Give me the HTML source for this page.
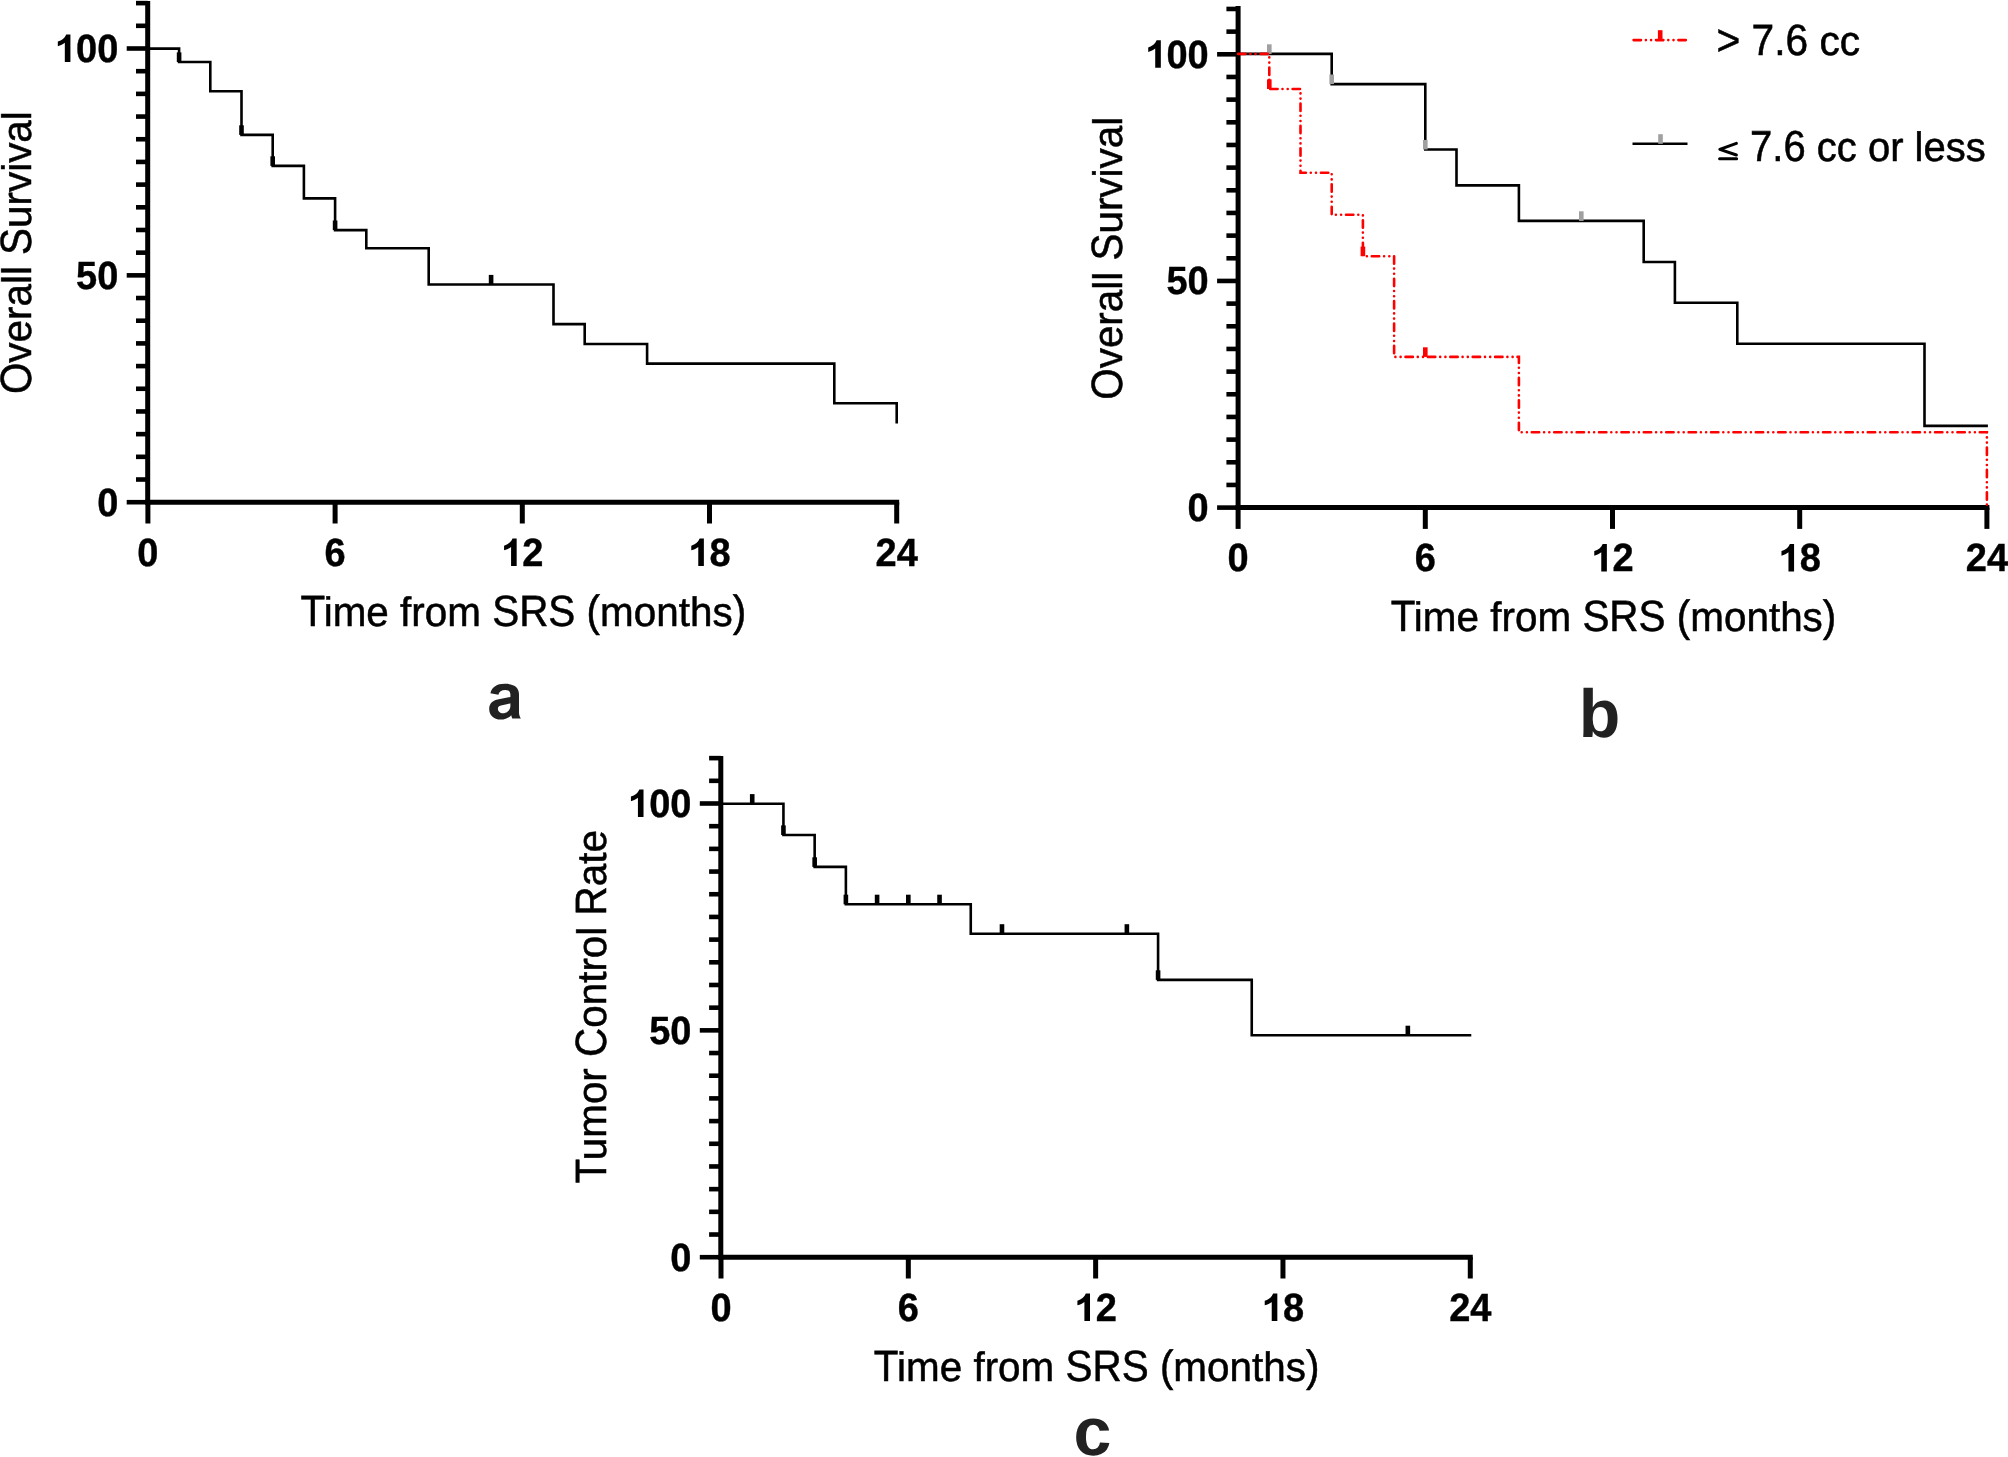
<!DOCTYPE html>
<html><head><meta charset="utf-8"><title>Kaplan-Meier curves</title>
<style>
html,body{margin:0;padding:0;background:#fff;}
body{width:2008px;height:1457px;overflow:hidden;}
svg{display:block;}
text{filter:grayscale(1);text-rendering:geometricPrecision;}
.tl{font-family:"Liberation Sans",sans-serif;font-weight:bold;font-size:38px;fill:#000;stroke:#000;stroke-width:0.4px;}
.tt{font-family:"Liberation Sans",sans-serif;font-size:40px;fill:#000;stroke:#000;stroke-width:0.5px;}
.pl{font-family:"Liberation Sans",sans-serif;font-weight:bold;font-size:68px;fill:#222;}
</style></head>
<body>
<svg width="2008" height="1457" viewBox="0 0 2008 1457">
<rect width="2008" height="1457" fill="#fff"/>
<line x1="147.7" y1="1" x2="147.7" y2="504.7" stroke="#000" stroke-width="5.0"/>
<line x1="126.7" y1="502.2" x2="147.7" y2="502.2" stroke="#000" stroke-width="4.6"/>
<line x1="136" y1="479.51" x2="147.7" y2="479.51" stroke="#000" stroke-width="4.6"/>
<line x1="136" y1="456.83" x2="147.7" y2="456.83" stroke="#000" stroke-width="4.6"/>
<line x1="136" y1="434.14" x2="147.7" y2="434.14" stroke="#000" stroke-width="4.6"/>
<line x1="136" y1="411.46" x2="147.7" y2="411.46" stroke="#000" stroke-width="4.6"/>
<line x1="136" y1="388.77" x2="147.7" y2="388.77" stroke="#000" stroke-width="4.6"/>
<line x1="136" y1="366.09" x2="147.7" y2="366.09" stroke="#000" stroke-width="4.6"/>
<line x1="136" y1="343.4" x2="147.7" y2="343.4" stroke="#000" stroke-width="4.6"/>
<line x1="136" y1="320.72" x2="147.7" y2="320.72" stroke="#000" stroke-width="4.6"/>
<line x1="136" y1="298.03" x2="147.7" y2="298.03" stroke="#000" stroke-width="4.6"/>
<line x1="126.7" y1="275.35" x2="147.7" y2="275.35" stroke="#000" stroke-width="4.6"/>
<line x1="136" y1="252.66" x2="147.7" y2="252.66" stroke="#000" stroke-width="4.6"/>
<line x1="136" y1="229.98" x2="147.7" y2="229.98" stroke="#000" stroke-width="4.6"/>
<line x1="136" y1="207.3" x2="147.7" y2="207.3" stroke="#000" stroke-width="4.6"/>
<line x1="136" y1="184.61" x2="147.7" y2="184.61" stroke="#000" stroke-width="4.6"/>
<line x1="136" y1="161.93" x2="147.7" y2="161.93" stroke="#000" stroke-width="4.6"/>
<line x1="136" y1="139.24" x2="147.7" y2="139.24" stroke="#000" stroke-width="4.6"/>
<line x1="136" y1="116.56" x2="147.7" y2="116.56" stroke="#000" stroke-width="4.6"/>
<line x1="136" y1="93.87" x2="147.7" y2="93.87" stroke="#000" stroke-width="4.6"/>
<line x1="136" y1="71.19" x2="147.7" y2="71.19" stroke="#000" stroke-width="4.6"/>
<line x1="126.7" y1="48.5" x2="147.7" y2="48.5" stroke="#000" stroke-width="4.6"/>
<line x1="136" y1="25.81" x2="147.7" y2="25.81" stroke="#000" stroke-width="4.6"/>
<line x1="136" y1="3.13" x2="147.7" y2="3.13" stroke="#000" stroke-width="4.6"/>
<line x1="145.2" y1="502.2" x2="899.2" y2="502.2" stroke="#000" stroke-width="5.0"/>
<line x1="147.9" y1="502.2" x2="147.9" y2="523.5" stroke="#000" stroke-width="5.0"/>
<line x1="335.1" y1="502.2" x2="335.1" y2="523.5" stroke="#000" stroke-width="5.0"/>
<line x1="522.3" y1="502.2" x2="522.3" y2="523.5" stroke="#000" stroke-width="5.0"/>
<line x1="709.5" y1="502.2" x2="709.5" y2="523.5" stroke="#000" stroke-width="5.0"/>
<line x1="896.7" y1="502.2" x2="896.7" y2="523.5" stroke="#000" stroke-width="5.0"/>
<text class="tl" transform="translate(97.17,515.6) scale(1,1.037)">0</text>
<text class="tl" transform="translate(76.04,288.75) scale(1,1.037)">5</text>
<text class="tl" transform="translate(97.17,288.75) scale(1,1.037)">0</text>
<path transform="translate(70.42,34.4)" d="M-4.2,0 L0,0 L0,27.5 L-5.6,27.5 L-5.6,8.4 C-7.4,10 -9.8,11.2 -12.6,11.8 L-12.6,7.2 C-8.6,6 -5.6,3.6 -4.2,0 Z" fill="#000"/>
<text class="tl" transform="translate(76.04,61.9) scale(1,1.037)">0</text>
<text class="tl" transform="translate(97.17,61.9) scale(1,1.037)">0</text>
<text class="tl" transform="translate(137.34,566) scale(1,1.037)">0</text>
<text class="tl" transform="translate(324.54,566) scale(1,1.037)">6</text>
<path transform="translate(516.67,538.5)" d="M-4.2,0 L0,0 L0,27.5 L-5.6,27.5 L-5.6,8.4 C-7.4,10 -9.8,11.2 -12.6,11.8 L-12.6,7.2 C-8.6,6 -5.6,3.6 -4.2,0 Z" fill="#000"/>
<text class="tl" transform="translate(522.3,566) scale(1,1.037)">2</text>
<path transform="translate(703.87,538.5)" d="M-4.2,0 L0,0 L0,27.5 L-5.6,27.5 L-5.6,8.4 C-7.4,10 -9.8,11.2 -12.6,11.8 L-12.6,7.2 C-8.6,6 -5.6,3.6 -4.2,0 Z" fill="#000"/>
<text class="tl" transform="translate(709.5,566) scale(1,1.037)">8</text>
<text class="tl" transform="translate(875.57,566) scale(1,1.037)">2</text>
<text class="tl" transform="translate(896.7,566) scale(1,1.037)">4</text>
<text class="tt" transform="translate(300.47,626) scale(1.011,1.095)" xml:space="preserve">T</text>
<text class="tt" transform="translate(323.66,626) scale(1.011,1.03)" xml:space="preserve">ime from </text>
<text class="tt" transform="translate(492.18,626) scale(1.011,1.095)" xml:space="preserve">SRS (</text>
<text class="tt" transform="translate(600.03,626) scale(1.011,1.03)" xml:space="preserve">months</text>
<text class="tt" transform="translate(732.64,626) scale(1.011,1.095)" xml:space="preserve">)</text>
<g transform="translate(31.3,252.66) rotate(-90)">
<text class="tt" transform="translate(-141.44,0) scale(1.01,1.095)" xml:space="preserve">O</text>
<text class="tt" transform="translate(-110.02,0) scale(1.01,1.03)" xml:space="preserve">verall </text>
<text class="tt" transform="translate(-2.25,0) scale(1.01,1.095)" xml:space="preserve">S</text>
<text class="tt" transform="translate(24.69,0) scale(1.01,1.03)" xml:space="preserve">urvival</text>
</g>
<path d="M147.9,48.6 L179.1,48.6 L179.1,62 L210.3,62 L210.3,91.2 L241.5,91.2 L241.5,134.9 L272.7,134.9 L272.7,165.9 L303.9,165.9 L303.9,198.4 L335.1,198.4 L335.1,230.1 L366.3,230.1 L366.3,248.2 L428.7,248.2 L428.7,284.5 L553.5,284.5 L553.5,324.1 L584.7,324.1 L584.7,344 L647.1,344 L647.1,363.6 L834.3,363.6 L834.3,403.2 L896.7,403.2 L896.7,423.4" fill="none" stroke="#000" stroke-width="2.6"/>
<rect x="176.8" y="52.4" width="4.6" height="9.6" fill="#000"/>
<rect x="239.2" y="125.3" width="4.6" height="9.6" fill="#000"/>
<rect x="270.4" y="156.3" width="4.6" height="9.6" fill="#000"/>
<rect x="332.8" y="220.5" width="4.6" height="9.6" fill="#000"/>
<rect x="488.8" y="274.9" width="4.6" height="9.6" fill="#000"/>
<line x1="1238.1" y1="6" x2="1238.1" y2="510.1" stroke="#000" stroke-width="5.0"/>
<line x1="1217.1" y1="507.6" x2="1238.1" y2="507.6" stroke="#000" stroke-width="4.6"/>
<line x1="1226.4" y1="484.94" x2="1238.1" y2="484.94" stroke="#000" stroke-width="4.6"/>
<line x1="1226.4" y1="462.27" x2="1238.1" y2="462.27" stroke="#000" stroke-width="4.6"/>
<line x1="1226.4" y1="439.61" x2="1238.1" y2="439.61" stroke="#000" stroke-width="4.6"/>
<line x1="1226.4" y1="416.94" x2="1238.1" y2="416.94" stroke="#000" stroke-width="4.6"/>
<line x1="1226.4" y1="394.28" x2="1238.1" y2="394.28" stroke="#000" stroke-width="4.6"/>
<line x1="1226.4" y1="371.61" x2="1238.1" y2="371.61" stroke="#000" stroke-width="4.6"/>
<line x1="1226.4" y1="348.95" x2="1238.1" y2="348.95" stroke="#000" stroke-width="4.6"/>
<line x1="1226.4" y1="326.28" x2="1238.1" y2="326.28" stroke="#000" stroke-width="4.6"/>
<line x1="1226.4" y1="303.62" x2="1238.1" y2="303.62" stroke="#000" stroke-width="4.6"/>
<line x1="1217.1" y1="280.95" x2="1238.1" y2="280.95" stroke="#000" stroke-width="4.6"/>
<line x1="1226.4" y1="258.28" x2="1238.1" y2="258.28" stroke="#000" stroke-width="4.6"/>
<line x1="1226.4" y1="235.62" x2="1238.1" y2="235.62" stroke="#000" stroke-width="4.6"/>
<line x1="1226.4" y1="212.95" x2="1238.1" y2="212.95" stroke="#000" stroke-width="4.6"/>
<line x1="1226.4" y1="190.29" x2="1238.1" y2="190.29" stroke="#000" stroke-width="4.6"/>
<line x1="1226.4" y1="167.62" x2="1238.1" y2="167.62" stroke="#000" stroke-width="4.6"/>
<line x1="1226.4" y1="144.96" x2="1238.1" y2="144.96" stroke="#000" stroke-width="4.6"/>
<line x1="1226.4" y1="122.3" x2="1238.1" y2="122.3" stroke="#000" stroke-width="4.6"/>
<line x1="1226.4" y1="99.63" x2="1238.1" y2="99.63" stroke="#000" stroke-width="4.6"/>
<line x1="1226.4" y1="76.96" x2="1238.1" y2="76.96" stroke="#000" stroke-width="4.6"/>
<line x1="1217.1" y1="54.3" x2="1238.1" y2="54.3" stroke="#000" stroke-width="4.6"/>
<line x1="1226.4" y1="31.63" x2="1238.1" y2="31.63" stroke="#000" stroke-width="4.6"/>
<line x1="1226.4" y1="8.97" x2="1238.1" y2="8.97" stroke="#000" stroke-width="4.6"/>
<line x1="1235.6" y1="507.6" x2="1989.4" y2="507.6" stroke="#000" stroke-width="5.0"/>
<line x1="1238.1" y1="507.6" x2="1238.1" y2="528.9" stroke="#000" stroke-width="5.0"/>
<line x1="1425.3" y1="507.6" x2="1425.3" y2="528.9" stroke="#000" stroke-width="5.0"/>
<line x1="1612.5" y1="507.6" x2="1612.5" y2="528.9" stroke="#000" stroke-width="5.0"/>
<line x1="1799.7" y1="507.6" x2="1799.7" y2="528.9" stroke="#000" stroke-width="5.0"/>
<line x1="1986.9" y1="507.6" x2="1986.9" y2="528.9" stroke="#000" stroke-width="5.0"/>
<text class="tl" transform="translate(1187.57,521) scale(1,1.037)">0</text>
<text class="tl" transform="translate(1166.44,294.35) scale(1,1.037)">5</text>
<text class="tl" transform="translate(1187.57,294.35) scale(1,1.037)">0</text>
<path transform="translate(1160.82,40.2)" d="M-4.2,0 L0,0 L0,27.5 L-5.6,27.5 L-5.6,8.4 C-7.4,10 -9.8,11.2 -12.6,11.8 L-12.6,7.2 C-8.6,6 -5.6,3.6 -4.2,0 Z" fill="#000"/>
<text class="tl" transform="translate(1166.44,67.7) scale(1,1.037)">0</text>
<text class="tl" transform="translate(1187.57,67.7) scale(1,1.037)">0</text>
<text class="tl" transform="translate(1227.54,571.4) scale(1,1.037)">0</text>
<text class="tl" transform="translate(1414.74,571.4) scale(1,1.037)">6</text>
<path transform="translate(1606.87,543.9)" d="M-4.2,0 L0,0 L0,27.5 L-5.6,27.5 L-5.6,8.4 C-7.4,10 -9.8,11.2 -12.6,11.8 L-12.6,7.2 C-8.6,6 -5.6,3.6 -4.2,0 Z" fill="#000"/>
<text class="tl" transform="translate(1612.5,571.4) scale(1,1.037)">2</text>
<path transform="translate(1794.07,543.9)" d="M-4.2,0 L0,0 L0,27.5 L-5.6,27.5 L-5.6,8.4 C-7.4,10 -9.8,11.2 -12.6,11.8 L-12.6,7.2 C-8.6,6 -5.6,3.6 -4.2,0 Z" fill="#000"/>
<text class="tl" transform="translate(1799.7,571.4) scale(1,1.037)">8</text>
<text class="tl" transform="translate(1965.77,571.4) scale(1,1.037)">2</text>
<text class="tl" transform="translate(1986.9,571.4) scale(1,1.037)">4</text>
<text class="tt" transform="translate(1390.67,631.4) scale(1.011,1.095)" xml:space="preserve">T</text>
<text class="tt" transform="translate(1413.86,631.4) scale(1.011,1.03)" xml:space="preserve">ime from </text>
<text class="tt" transform="translate(1582.38,631.4) scale(1.011,1.095)" xml:space="preserve">SRS (</text>
<text class="tt" transform="translate(1690.23,631.4) scale(1.011,1.03)" xml:space="preserve">months</text>
<text class="tt" transform="translate(1822.84,631.4) scale(1.011,1.095)" xml:space="preserve">)</text>
<g transform="translate(1121.7,258.28) rotate(-90)">
<text class="tt" transform="translate(-141.44,0) scale(1.01,1.095)" xml:space="preserve">O</text>
<text class="tt" transform="translate(-110.02,0) scale(1.01,1.03)" xml:space="preserve">verall </text>
<text class="tt" transform="translate(-2.25,0) scale(1.01,1.095)" xml:space="preserve">S</text>
<text class="tt" transform="translate(24.69,0) scale(1.01,1.03)" xml:space="preserve">urvival</text>
</g>
<path d="M1238.1,53.9 L1331.7,53.9 L1331.7,84.1 L1425.3,84.1 L1425.3,149.5 L1456.5,149.5 L1456.5,185.4 L1518.9,185.4 L1518.9,220.9 L1643.7,220.9 L1643.7,262 L1674.9,262 L1674.9,302.8 L1737.3,302.8 L1737.3,343.8 L1924.5,343.8 L1924.5,425.9 L1987.9,425.9" fill="none" stroke="#000" stroke-width="2.6"/>
<rect x="1267" y="44.3" width="4.6" height="9.6" fill="#a0a0a0"/>
<rect x="1329.4" y="74.5" width="4.6" height="9.6" fill="#a0a0a0"/>
<rect x="1423" y="139.9" width="4.6" height="9.6" fill="#a0a0a0"/>
<rect x="1579" y="211.3" width="4.6" height="9.6" fill="#a0a0a0"/>
<path d="M1238.1,53.9 L1269.3,53.9 L1269.3,89 L1300.5,89 L1300.5,172.7 L1331.7,172.7 L1331.7,214.8 L1362.9,214.8 L1362.9,256.2 L1394.1,256.2 L1394.1,356.9 L1518.9,356.9 L1518.9,432.2 L1986.9,432.2 L1986.9,507.6" fill="none" stroke="#f00" stroke-width="2.6" stroke-linecap="round" stroke-dasharray="7.4 4.9 0 5.2 0 4.9"/>
<rect x="1267" y="79.4" width="4.6" height="9.6" fill="#f00"/>
<rect x="1360.6" y="246.6" width="4.6" height="9.6" fill="#f00"/>
<rect x="1423" y="347.3" width="4.6" height="9.6" fill="#f00"/>
<path d="M1633.6,40.1 L1686.2,40.1" stroke="#f00" stroke-width="2.6" stroke-linecap="round" stroke-dasharray="7.4 4.9 0 5.2 0 4.9"/>
<rect x="1657.9" y="30.2" width="4.6" height="9.6" fill="#f00"/>
<path d="M1632.5,143.8 L1687.5,143.8" stroke="#000" stroke-width="2.6"/>
<rect x="1658.2" y="134.2" width="4.6" height="9.6" fill="#a0a0a0"/>
<text class="tt" transform="translate(1716.4,54.7) scale(1.018,1.095)" xml:space="preserve">&gt; 7.6 </text>
<text class="tt" transform="translate(1819.41,54.7) scale(1.018,1.03)" xml:space="preserve">cc</text>
<text class="tt" transform="translate(1738.95,160.8) scale(1.0,1.085)" xml:space="preserve"> 7.6 </text>
<text class="tt" transform="translate(1816.78,160.8) scale(1.0,1.03)" xml:space="preserve">cc or less</text>
<path d="M1736.4,143.4 L1719.8,149.3 L1736.4,155.0" fill="none" stroke="#000" stroke-width="3" stroke-linecap="round" stroke-linejoin="round"/>
<path d="M1719.6,158.7 L1736.6,158.7" fill="none" stroke="#000" stroke-width="3" stroke-linecap="round"/>
<line x1="720.8" y1="755.9" x2="720.8" y2="1259.7" stroke="#000" stroke-width="5.0"/>
<line x1="699.8" y1="1257.2" x2="720.8" y2="1257.2" stroke="#000" stroke-width="4.6"/>
<line x1="709.1" y1="1234.52" x2="720.8" y2="1234.52" stroke="#000" stroke-width="4.6"/>
<line x1="709.1" y1="1211.83" x2="720.8" y2="1211.83" stroke="#000" stroke-width="4.6"/>
<line x1="709.1" y1="1189.14" x2="720.8" y2="1189.14" stroke="#000" stroke-width="4.6"/>
<line x1="709.1" y1="1166.46" x2="720.8" y2="1166.46" stroke="#000" stroke-width="4.6"/>
<line x1="709.1" y1="1143.78" x2="720.8" y2="1143.78" stroke="#000" stroke-width="4.6"/>
<line x1="709.1" y1="1121.09" x2="720.8" y2="1121.09" stroke="#000" stroke-width="4.6"/>
<line x1="709.1" y1="1098.4" x2="720.8" y2="1098.4" stroke="#000" stroke-width="4.6"/>
<line x1="709.1" y1="1075.72" x2="720.8" y2="1075.72" stroke="#000" stroke-width="4.6"/>
<line x1="709.1" y1="1053.04" x2="720.8" y2="1053.04" stroke="#000" stroke-width="4.6"/>
<line x1="699.8" y1="1030.35" x2="720.8" y2="1030.35" stroke="#000" stroke-width="4.6"/>
<line x1="709.1" y1="1007.67" x2="720.8" y2="1007.67" stroke="#000" stroke-width="4.6"/>
<line x1="709.1" y1="984.98" x2="720.8" y2="984.98" stroke="#000" stroke-width="4.6"/>
<line x1="709.1" y1="962.3" x2="720.8" y2="962.3" stroke="#000" stroke-width="4.6"/>
<line x1="709.1" y1="939.61" x2="720.8" y2="939.61" stroke="#000" stroke-width="4.6"/>
<line x1="709.1" y1="916.93" x2="720.8" y2="916.93" stroke="#000" stroke-width="4.6"/>
<line x1="709.1" y1="894.24" x2="720.8" y2="894.24" stroke="#000" stroke-width="4.6"/>
<line x1="709.1" y1="871.56" x2="720.8" y2="871.56" stroke="#000" stroke-width="4.6"/>
<line x1="709.1" y1="848.87" x2="720.8" y2="848.87" stroke="#000" stroke-width="4.6"/>
<line x1="709.1" y1="826.19" x2="720.8" y2="826.19" stroke="#000" stroke-width="4.6"/>
<line x1="699.8" y1="803.5" x2="720.8" y2="803.5" stroke="#000" stroke-width="4.6"/>
<line x1="709.1" y1="780.82" x2="720.8" y2="780.82" stroke="#000" stroke-width="4.6"/>
<line x1="709.1" y1="758.13" x2="720.8" y2="758.13" stroke="#000" stroke-width="4.6"/>
<line x1="718.3" y1="1257.2" x2="1472.78" y2="1257.2" stroke="#000" stroke-width="5.0"/>
<line x1="721" y1="1257.2" x2="721" y2="1278.5" stroke="#000" stroke-width="5.0"/>
<line x1="908.32" y1="1257.2" x2="908.32" y2="1278.5" stroke="#000" stroke-width="5.0"/>
<line x1="1095.64" y1="1257.2" x2="1095.64" y2="1278.5" stroke="#000" stroke-width="5.0"/>
<line x1="1282.96" y1="1257.2" x2="1282.96" y2="1278.5" stroke="#000" stroke-width="5.0"/>
<line x1="1470.28" y1="1257.2" x2="1470.28" y2="1278.5" stroke="#000" stroke-width="5.0"/>
<text class="tl" transform="translate(670.27,1270.6) scale(1,1.037)">0</text>
<text class="tl" transform="translate(649.14,1043.75) scale(1,1.037)">5</text>
<text class="tl" transform="translate(670.27,1043.75) scale(1,1.037)">0</text>
<path transform="translate(643.52,789.4)" d="M-4.2,0 L0,0 L0,27.5 L-5.6,27.5 L-5.6,8.4 C-7.4,10 -9.8,11.2 -12.6,11.8 L-12.6,7.2 C-8.6,6 -5.6,3.6 -4.2,0 Z" fill="#000"/>
<text class="tl" transform="translate(649.14,816.9) scale(1,1.037)">0</text>
<text class="tl" transform="translate(670.27,816.9) scale(1,1.037)">0</text>
<text class="tl" transform="translate(710.44,1321) scale(1,1.037)">0</text>
<text class="tl" transform="translate(897.76,1321) scale(1,1.037)">6</text>
<path transform="translate(1090.01,1293.5)" d="M-4.2,0 L0,0 L0,27.5 L-5.6,27.5 L-5.6,8.4 C-7.4,10 -9.8,11.2 -12.6,11.8 L-12.6,7.2 C-8.6,6 -5.6,3.6 -4.2,0 Z" fill="#000"/>
<text class="tl" transform="translate(1095.64,1321) scale(1,1.037)">2</text>
<path transform="translate(1277.33,1293.5)" d="M-4.2,0 L0,0 L0,27.5 L-5.6,27.5 L-5.6,8.4 C-7.4,10 -9.8,11.2 -12.6,11.8 L-12.6,7.2 C-8.6,6 -5.6,3.6 -4.2,0 Z" fill="#000"/>
<text class="tl" transform="translate(1282.96,1321) scale(1,1.037)">8</text>
<text class="tl" transform="translate(1449.15,1321) scale(1,1.037)">2</text>
<text class="tl" transform="translate(1470.28,1321) scale(1,1.037)">4</text>
<text class="tt" transform="translate(873.81,1381) scale(1.011,1.095)" xml:space="preserve">T</text>
<text class="tt" transform="translate(897,1381) scale(1.011,1.03)" xml:space="preserve">ime from </text>
<text class="tt" transform="translate(1065.52,1381) scale(1.011,1.095)" xml:space="preserve">SRS (</text>
<text class="tt" transform="translate(1173.37,1381) scale(1.011,1.03)" xml:space="preserve">months</text>
<text class="tt" transform="translate(1305.98,1381) scale(1.011,1.095)" xml:space="preserve">)</text>
<g transform="translate(606.4,1006.76) rotate(-90)">
<text class="tt" transform="translate(-176.62,0) scale(1.01,1.095)" xml:space="preserve">T</text>
<text class="tt" transform="translate(-153.46,0) scale(1.01,1.03)" xml:space="preserve">umor </text>
<text class="tt" transform="translate(-50.18,0) scale(1.01,1.095)" xml:space="preserve">C</text>
<text class="tt" transform="translate(-21,0) scale(1.01,1.03)" xml:space="preserve">ontrol </text>
<text class="tt" transform="translate(91.28,0) scale(1.01,1.095)" xml:space="preserve">R</text>
<text class="tt" transform="translate(120.46,0) scale(1.01,1.03)" xml:space="preserve">ate</text>
</g>
<path d="M721,803.7 L783.44,803.7 L783.44,835 L814.66,835 L814.66,866.9 L845.88,866.9 L845.88,904.3 L970.76,904.3 L970.76,933.8 L1158.08,933.8 L1158.08,979.9 L1251.74,979.9 L1251.74,1035.3 L1471.28,1035.3" fill="none" stroke="#000" stroke-width="2.6"/>
<rect x="749.92" y="794.1" width="4.6" height="9.6" fill="#000"/>
<rect x="781.14" y="825.4" width="4.6" height="9.6" fill="#000"/>
<rect x="812.36" y="857.3" width="4.6" height="9.6" fill="#000"/>
<rect x="843.58" y="894.7" width="4.6" height="9.6" fill="#000"/>
<rect x="874.8" y="894.7" width="4.6" height="9.6" fill="#000"/>
<rect x="906.02" y="894.7" width="4.6" height="9.6" fill="#000"/>
<rect x="937.24" y="894.7" width="4.6" height="9.6" fill="#000"/>
<rect x="999.68" y="924.2" width="4.6" height="9.6" fill="#000"/>
<rect x="1124.56" y="924.2" width="4.6" height="9.6" fill="#000"/>
<rect x="1155.78" y="970.3" width="4.6" height="9.6" fill="#000"/>
<rect x="1405.54" y="1025.7" width="4.6" height="9.6" fill="#000"/>
<path d="M490.4,693.2 C491.8,687.0 497.0,683.8 504.6,683.8 C514.5,683.8 519.0,687.6 519.0,694.5 L519.0,712.5 C519.0,715.0 519.8,717.0 520.9,718.4 L512.3,718.4 C511.8,717.5 511.5,716.4 511.3,715.3 C508.5,718.2 504.8,719.6 500.7,719.6 C493.5,719.6 489.2,715.0 489.2,709.0 C489.2,702.5 493.5,699.9 500.0,698.9 L510.4,697.0 L510.4,694.5 C510.4,691.5 508.5,690.0 505.3,690.0 C501.5,690.0 499.0,691.8 498.4,694.8 Z M510.4,703.2 C507.5,704.5 504.0,705.0 501.0,705.6 C498.5,706.2 497.9,707.5 497.9,708.8 C497.9,711.5 500.0,713.3 503.0,713.3 C507.5,713.3 510.4,709.5 510.4,706.0 Z" fill="#222" fill-rule="evenodd"/>
<text class="pl" x="1599.5" y="737" text-anchor="middle">b</text>
<text class="pl" x="1092.5" y="1454.6" text-anchor="middle">c</text>
</svg>
</body></html>
